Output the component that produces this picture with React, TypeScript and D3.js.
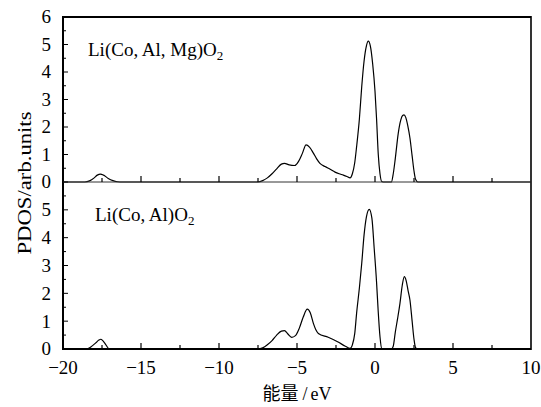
import React from "react";
import * as d3 from "d3";

// Energy (eV) and PDOS values
const energyTop: number[] = [
  -20, -18.6, -18.3, -18.0, -17.8, -17.6, -17.4, -17.1, -16.8, -16.5, -16.2,
  -7.5, -7.2, -6.9, -6.6, -6.3, -6.0, -5.8, -5.5, -5.15, -4.9, -4.65, -4.42, -4.2, -3.95, -3.75, -3.53, -3.2, -2.9, -2.56, -2.3, -2.03, -1.8, -1.6,
  -1.45, -1.3, -1.18, -1.0, -0.85, -0.7, -0.55, -0.43, -0.3, -0.15, -0.0, 0.1, 0.21, 0.32, 0.43, 0.6,
  1.05, 1.17, 1.3, 1.49, 1.65, 1.77, 1.86, 1.97, 2.1, 2.24, 2.38, 2.5, 2.6, 2.75, 10,
];
const pdosTop: number[] = [
  0, 0, 0.04, 0.15, 0.25, 0.29, 0.25, 0.13, 0.05, 0.01, 0,
  0, 0.05, 0.15, 0.3, 0.48, 0.65, 0.68, 0.62, 0.6, 0.75, 1.05, 1.35, 1.27, 1.05, 0.85, 0.68, 0.56, 0.47, 0.36, 0.3, 0.25, 0.2, 0.15,
  0.3, 0.7, 1.28, 2.3, 3.47, 4.4, 4.95, 5.12, 4.95, 4.3, 3.3, 2.3, 1.0, 0.3, 0.02, 0,
  0, 0.3, 0.85, 1.77, 2.25, 2.42, 2.44, 2.35, 2.05, 1.6, 0.95, 0.4, 0.1, 0, 0,
];

const energyBottom: number[] = [
  -20, -18.5, -18.2, -17.9, -17.7, -17.58, -17.45, -17.25, -17.03, -16.8,
  -7.5, -7.2, -6.9, -6.6, -6.3, -6.0, -5.8, -5.6, -5.34, -5.1, -4.85, -4.6, -4.34, -4.15, -3.95, -3.8, -3.63, -3.0, -2.4, -1.9, -1.6,
  -1.45, -1.3, -1.18, -1.0, -0.85, -0.7, -0.55, -0.37, -0.2, -0.05, 0.1, 0.2, 0.32, 0.43, 0.6,
  1.05, 1.17, 1.3, 1.45, 1.6, 1.75, 1.88, 2.0, 2.12, 2.24, 2.38, 2.5, 2.6, 2.75, 10,
];
const pdosBottom: number[] = [
  0, 0, 0.08, 0.22, 0.32, 0.35, 0.3, 0.15, 0, 0,
  0, 0.04, 0.15, 0.3, 0.5, 0.64, 0.66, 0.55, 0.42, 0.48, 0.75, 1.15, 1.43, 1.3, 0.92, 0.7, 0.56, 0.42, 0.26, 0.1, 0.02,
  0.15, 0.55, 1.28, 2.2, 3.08, 4.1, 4.75, 5.02, 4.7, 3.6, 2.4, 1.4, 0.44, 0.02, 0,
  0, 0.1, 0.6, 1.1, 1.64, 2.3, 2.6, 2.45, 2.1, 1.76, 1.0, 0.35, 0.05, 0, 0,
];

const xTicks: number[] = [-20, -15, -10, -5, 0, 5, 10];
const xMinorTicks: number[] = [-17.5, -15, -12.5, -10, -7.5, -5, -2.5, 0, 2.5, 5, 7.5];
const yTicksTop: number[] = [0, 1, 2, 3, 4, 5, 6];
const yTicksBottom: number[] = [0, 1, 2, 3, 4, 5];
const panelLabels: string[] = ["Li(Co, Al, Mg)O", "Li(Co, Al)O"];

const W = 541;
const H = 407;
const L = 63;
const R = 531;
const TOP = 17;
const MID = 182;
const BOT = 349;
const SERIF = "'Liberation Serif', 'DejaVu Serif', serif";

export default function App() {
  const x = d3.scaleLinear().domain([-20, 10]).range([L, R]);
  const yTop = d3.scaleLinear().domain([0, 6]).range([MID, TOP]);
  const yBot = d3.scaleLinear().domain([0, 6]).range([BOT, MID]);

  const mk = (ys: d3.ScaleLinear<number, number>) =>
    d3
      .line<[number, number]>()
      .x((d) => x(d[0]))
      .y((d) => ys(d[1]))
      .curve(d3.curveMonotoneX);

  const topData = energyTop.map((e, i) => [e, pdosTop[i]] as [number, number]);
  const botData = energyBottom.map((e, i) => [e, pdosBottom[i]] as [number, number]);

  const minorY = (ticks: number[]) => {
    const arr: number[] = [];
    for (let i = 0; i < ticks.length - 1; i++) arr.push(ticks[i] + 0.5);
    return arr;
  };

  return (
    <svg
      width={W}
      height={H}
      style={{ position: "absolute", left: 0, top: 0, background: "#fff" }}
      fontFamily={SERIF}
    >
      <rect x={0} y={0} width={W} height={H} fill="#fff" />

      {/* curves */}
      <path d={mk(yTop)(topData) || ""} fill="none" stroke="#000" strokeWidth={1.2} />
      <path d={mk(yBot)(botData) || ""} fill="none" stroke="#000" strokeWidth={1.2} />

      {/* frame */}
      <line x1={L} x2={R} y1={TOP} y2={TOP} stroke="#000" strokeWidth={2} />
      <line x1={L} x2={L} y1={TOP - 1} y2={BOT + 1} stroke="#000" strokeWidth={2} />
      <line x1={R} x2={R} y1={TOP - 1} y2={BOT + 1} stroke="#000" strokeWidth={1.6} />
      <line x1={L} x2={R} y1={BOT} y2={BOT} stroke="#000" strokeWidth={2} />
      <line x1={L} x2={R} y1={MID} y2={MID} stroke="#333" strokeWidth={1} />

      {/* x ticks (upward on both baselines) */}
      {[MID, BOT].map((yb) =>
        xMinorTicks.map((t) => (
          <line
            key={`xt-${yb}-${t}`}
            x1={x(t)}
            x2={x(t)}
            y1={yb}
            y2={yb - (t % 5 === 0 ? 6 : 4)}
            stroke="#000"
            strokeWidth={1.2}
          />
        ))
      )}

      {/* y ticks */}
      {yTicksTop.map((t) => (
        <line key={`yt-${t}`} x1={L} x2={L + 5} y1={yTop(t)} y2={yTop(t)} stroke="#000" strokeWidth={1} />
      ))}
      {minorY(yTicksTop).map((t) => (
        <line key={`ytm-${t}`} x1={L} x2={L + 3} y1={yTop(t)} y2={yTop(t)} stroke="#000" strokeWidth={1} />
      ))}
      {yTicksBottom.map((t) => (
        <line key={`yb-${t}`} x1={L} x2={L + 5} y1={yBot(t)} y2={yBot(t)} stroke="#000" strokeWidth={1} />
      ))}
      {minorY([...yTicksBottom, 6]).map((t) => (
        <line key={`ybm-${t}`} x1={L} x2={L + 3} y1={yBot(t)} y2={yBot(t)} stroke="#000" strokeWidth={1} />
      ))}

      {/* y tick labels */}
      {yTicksTop.map((t) => (
        <text key={`ytl-${t}`} x={51} y={yTop(t)} dy="0.34em" textAnchor="end" fontSize={19}>
          {t}
        </text>
      ))}
      {yTicksBottom.map((t) => (
        <text key={`ybl-${t}`} x={51} y={yBot(t)} dy="0.34em" textAnchor="end" fontSize={19}>
          {t}
        </text>
      ))}

      {/* x tick labels */}
      {xTicks.map((t) => (
        <text key={`xl-${t}`} x={x(t)} y={374} textAnchor="middle" fontSize={19}>
          {t < 0 ? `\u2212${Math.abs(t)}` : t}
        </text>
      ))}

      {/* panel labels */}
      <text x={88} y={56} fontSize={19}>
        {panelLabels[0]}
        <tspan fontSize={13} dy={4}>2</tspan>
      </text>
      <text x={95} y={221} fontSize={19}>
        {panelLabels[1]}
        <tspan fontSize={13} dy={4}>2</tspan>
      </text>

      {/* axis titles */}
      <text
        transform={`translate(31, ${(TOP + BOT) / 2}) rotate(-90)`}
        textAnchor="middle"
        fontSize={19}
        textLength={143}
        lengthAdjust="spacingAndGlyphs"
      >
        PDOS/arb.units
      </text>
      <text x={(L + R) / 2} y={400} textAnchor="middle" fontSize={18}>
        <tspan fontFamily="'Noto Sans CJK SC', sans-serif">能量</tspan>
        <tspan dx={4}>/</tspan>
        <tspan dx={3}>eV</tspan>
      </text>
    </svg>
  );
}
